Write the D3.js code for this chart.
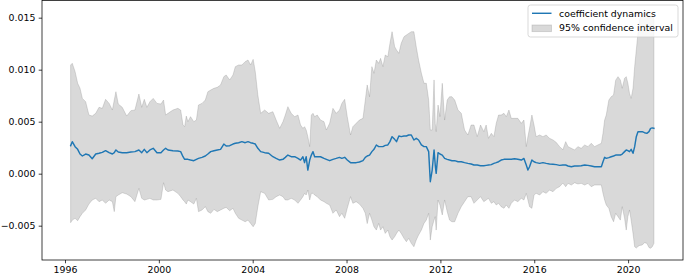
<!DOCTYPE html>
<html>
<head>
<meta charset="utf-8">
<script src="https://cdn.jsdelivr.net/npm/d3@7"></script>
<style>
  html, body { margin: 0; padding: 0; background: #ffffff; }
  svg { display: block; }
  text { font-family: "DejaVu Sans", sans-serif; }
</style>
</head>
<body>
<svg id="chart" width="685" height="276"></svg>
<script>
const years = [
1996.24,1996.31,1996.43,1996.54,1996.64,1996.74,1996.88,1997.02,1997.16,1997.31,
1997.45,1997.59,1997.73,1997.88,1998.02,1998.10,1998.17,1998.27,1998.44,1998.63,
1998.81,1998.98,1999.15,1999.27,1999.38,1999.49,1999.62,1999.76,1999.92,2000.09,
2000.20,2000.29,2000.39,2000.60,2000.81,2000.93,2001.03,2001.10,2001.17,2001.24,
2001.35,2001.49,2001.60,2001.69,2001.84,2001.98,2002.09,2002.21,2002.35,2002.49,
2002.63,2002.77,2002.87,2003.02,2003.16,2003.26,2003.40,2003.54,2003.68,2003.80,
2003.91,2004.02,2004.11,2004.22,2004.34,2004.51,2004.68,2004.86,2005.00,2005.15,
2005.29,2005.39,2005.50,2005.64,2005.79,2005.93,2006.04,2006.14,2006.21,2006.28,
2006.35,2006.43,2006.50,2006.57,2006.64,2006.75,2006.89,2007.04,2007.14,2007.28,
2007.42,2007.56,2007.70,2007.80,2007.92,2008.03,2008.17,2008.27,2008.41,2008.55,
2008.70,2008.80,2008.88,2008.98,2009.08,2009.17,2009.27,2009.37,2009.45,2009.55,
2009.65,2009.76,2009.85,2009.94,2010.05,2010.13,2010.23,2010.33,2010.45,2010.55,
2010.65,2010.76,2010.87,2010.97,2011.07,2011.19,2011.30,2011.40,2011.50,2011.57,
2011.65,2011.73,2011.78,2011.82,2011.90,2011.98,2012.08,2012.18,2012.29,2012.39,
2012.49,2012.61,2012.75,2012.89,2013.03,2013.17,2013.31,2013.43,2013.57,2013.71,
2013.85,2013.95,2014.05,2014.17,2014.28,2014.38,2014.48,2014.59,2014.71,2014.81,
2014.92,2015.02,2015.16,2015.30,2015.45,2015.56,2015.66,2015.73,2015.80,2015.90,
2015.99,2016.08,2016.23,2016.37,2016.51,2016.65,2016.80,2016.94,2017.08,2017.22,
2017.34,2017.44,2017.58,2017.72,2017.86,2018.00,2018.15,2018.29,2018.43,2018.57,
2018.71,2018.86,2018.93,2019.00,2019.07,2019.18,2019.28,2019.38,2019.47,2019.57,
2019.67,2019.75,2019.85,2019.92,2019.99,2020.06,2020.13,2020.21,2020.28,2020.35,
2020.42,2020.49,2020.60,2020.70,2020.80,2020.89,2020.96,2021.03,2021.10
];

const coef = [
0.00269,0.00308,0.00260,0.00234,0.00189,0.00170,0.00189,0.00179,0.00144,0.00189,
0.00196,0.00205,0.00221,0.00202,0.00189,0.00202,0.00228,0.00208,0.00202,0.00202,
0.00208,0.00212,0.00228,0.00202,0.00234,0.00202,0.00228,0.00244,0.00202,0.00202,
0.00228,0.00244,0.00228,0.00221,0.00218,0.00212,0.00163,0.00138,0.00138,0.00138,
0.00131,0.00125,0.00138,0.00147,0.00157,0.00170,0.00189,0.00212,0.00221,0.00228,
0.00234,0.00285,0.00266,0.00269,0.00285,0.00292,0.00298,0.00308,0.00298,0.00308,
0.00298,0.00292,0.00285,0.00244,0.00212,0.00202,0.00196,0.00163,0.00147,0.00131,
0.00138,0.00157,0.00179,0.00163,0.00163,0.00147,0.00131,0.00163,0.00106,0.00163,
0.00035,0.00131,0.00179,0.00212,0.00163,0.00163,0.00163,0.00147,0.00138,0.00125,
0.00138,0.00147,0.00157,0.00147,0.00157,0.00131,0.00106,0.00106,0.00106,0.00112,
0.00125,0.00157,0.00170,0.00179,0.00212,0.00234,0.00276,0.00260,0.00260,0.00260,
0.00272,0.00276,0.00308,0.00356,0.00330,0.00308,0.00362,0.00356,0.00362,0.00362,
0.00372,0.00372,0.00324,0.00340,0.00324,0.00276,0.00260,0.00260,0.00212,-0.00077,
0.00035,0.00228,0.00083,0.00003,0.00202,0.00189,0.00179,0.00147,0.00138,0.00131,
0.00125,0.00125,0.00115,0.00115,0.00106,0.00099,0.00093,0.00083,0.00083,0.00077,
0.00077,0.00080,0.00083,0.00087,0.00099,0.00106,0.00115,0.00131,0.00138,0.00138,
0.00138,0.00138,0.00144,0.00138,0.00131,0.00147,0.00083,0.00035,0.00067,0.00131,
0.00115,0.00106,0.00099,0.00106,0.00099,0.00093,0.00090,0.00087,0.00080,0.00083,
0.00083,0.00074,0.00067,0.00074,0.00074,0.00077,0.00083,0.00080,0.00074,0.00067,
0.00067,0.00067,0.00115,0.00157,0.00147,0.00154,0.00163,0.00170,0.00179,0.00179,
0.00179,0.00189,0.00212,0.00228,0.00221,0.00212,0.00234,0.00196,0.00260,0.00356,
0.00404,0.00404,0.00404,0.00394,0.00388,0.00404,0.00436,0.00440,0.00436
];

const upper = [
0.01045,0.01061,0.00981,0.00869,0.00821,0.00724,0.00692,0.00564,0.00554,0.00580,
0.00638,0.00628,0.00715,0.00676,0.00612,0.00708,0.00788,0.00670,0.00638,0.00554,
0.00606,0.00612,0.00766,0.00638,0.00715,0.00638,0.00692,0.00724,0.00676,0.00670,
0.00708,0.00564,0.00580,0.00612,0.00628,0.00612,0.00468,0.00452,0.00554,0.00500,
0.00548,0.00500,0.00516,0.00660,0.00676,0.00708,0.00788,0.00804,0.00821,0.00830,
0.00853,0.00933,0.00949,0.00901,0.00949,0.01029,0.01045,0.01045,0.01077,0.01093,
0.01045,0.01099,0.00981,0.00756,0.00580,0.00612,0.00580,0.00596,0.00516,0.00436,
0.00500,0.00564,0.00644,0.00580,0.00548,0.00564,0.00468,0.00436,0.00452,0.00420,
0.00356,0.00260,0.00564,0.00580,0.00548,0.00564,0.00516,0.00500,0.00420,0.00484,
0.00628,0.00580,0.00612,0.00676,0.00715,0.00548,0.00372,0.00452,0.00484,0.00516,
0.00532,0.00708,0.00853,0.00740,0.01029,0.00965,0.01093,0.01061,0.01109,0.01029,
0.01141,0.01125,0.01253,0.01365,0.01221,0.01189,0.01157,0.01253,0.01317,0.01333,
0.01349,0.01365,0.01365,0.01221,0.01093,0.00965,0.00869,0.00869,0.00708,0.00420,
0.00420,0.00901,0.00484,0.00404,0.00660,0.00548,0.00869,0.00516,0.00708,0.00740,
0.00740,0.00708,0.00612,0.00580,0.00420,0.00372,0.00468,0.00468,0.00356,0.00468,
0.00404,0.00468,0.00340,0.00388,0.00356,0.00484,0.00564,0.00564,0.00580,0.00548,
0.00612,0.00532,0.00532,0.00532,0.00484,0.00516,0.00260,0.00356,0.00436,0.00564,
0.00468,0.00356,0.00372,0.00356,0.00372,0.00340,0.00324,0.00300,0.00260,0.00230,
0.00308,0.00260,0.00244,0.00228,0.00260,0.00244,0.00276,0.00260,0.00292,0.00260,
0.00276,0.00292,0.00388,0.00516,0.00564,0.00708,0.00740,0.00756,0.00899,0.00933,
0.00901,0.00821,0.00917,0.00933,0.00869,0.00772,0.00724,0.00821,0.01029,0.01189,
0.01349,0.01478,0.01530,0.01550,0.01557,0.01540,0.01550,0.01530,0.01480
];

const lower = [
-0.00471,-0.00446,-0.00429,-0.00452,-0.00413,-0.00381,-0.00349,-0.00292,-0.00253,-0.00237,
-0.00269,-0.00253,-0.00285,-0.00253,-0.00269,-0.00365,-0.00221,-0.00205,-0.00183,-0.00196,
-0.00221,-0.00269,-0.00141,-0.00237,-0.00253,-0.00247,-0.00237,-0.00253,-0.00253,-0.00247,
-0.00087,-0.00157,-0.00173,-0.00157,-0.00189,-0.00221,-0.00253,-0.00269,-0.00292,-0.00253,
-0.00269,-0.00292,-0.00237,-0.00365,-0.00349,-0.00317,-0.00365,-0.00381,-0.00343,-0.00365,
-0.00349,-0.00333,-0.00324,-0.00356,-0.00333,-0.00381,-0.00429,-0.00446,-0.00462,-0.00446,
-0.00478,-0.00510,-0.00478,-0.00317,-0.00173,-0.00189,-0.00253,-0.00247,-0.00221,-0.00205,
-0.00221,-0.00253,-0.00253,-0.00237,-0.00253,-0.00285,-0.00253,-0.00221,-0.00189,-0.00205,
-0.00157,-0.00253,-0.00189,-0.00189,-0.00205,-0.00221,-0.00253,-0.00269,-0.00285,-0.00301,
-0.00381,-0.00349,-0.00413,-0.00381,-0.00429,-0.00333,-0.00221,-0.00285,-0.00269,-0.00292,
-0.00333,-0.00381,-0.00480,-0.00381,-0.00446,-0.00510,-0.00542,-0.00478,-0.00542,-0.00510,
-0.00574,-0.00542,-0.00606,-0.00638,-0.00606,-0.00574,-0.00542,-0.00574,-0.00622,-0.00654,
-0.00622,-0.00670,-0.00702,-0.00638,-0.00590,-0.00542,-0.00478,-0.00446,-0.00381,-0.00638,
-0.00510,-0.00446,-0.00413,-0.00542,-0.00253,-0.00301,-0.00397,-0.00253,-0.00365,-0.00446,
-0.00462,-0.00462,-0.00381,-0.00317,-0.00269,-0.00221,-0.00221,-0.00285,-0.00253,-0.00221,
-0.00269,-0.00253,-0.00237,-0.00285,-0.00269,-0.00301,-0.00285,-0.00317,-0.00333,-0.00301,
-0.00333,-0.00285,-0.00253,-0.00269,-0.00237,-0.00253,-0.00189,-0.00253,-0.00317,-0.00333,
-0.00205,-0.00189,-0.00205,-0.00173,-0.00189,-0.00157,-0.00173,-0.00141,-0.00125,-0.00090,
-0.00125,-0.00093,-0.00109,-0.00087,-0.00099,-0.00093,-0.00109,-0.00093,-0.00125,-0.00109,
-0.00109,-0.00109,-0.00189,-0.00253,-0.00301,-0.00333,-0.00413,-0.00462,-0.00381,-0.00413,
-0.00446,-0.00317,-0.00429,-0.00542,-0.00413,-0.00349,-0.00446,-0.00574,-0.00702,-0.00715,
-0.00700,-0.00690,-0.00686,-0.00663,-0.00670,-0.00710,-0.00717,-0.00702,-0.00670
];

const xTicks = [1996, 2000, 2004, 2008, 2012, 2016, 2020];
const yTicks = [-0.005, 0.000, 0.005, 0.010, 0.015];
const seriesNames = ["coefficient dynamics", "95% confidence interval"];

(function () {
  const data = years.map((t, i) => ({ t, c: coef[i], hi: upper[i], lo: lower[i] }));

  const svg = d3.select("#chart");
  const mLeft = 42, mRight = 683, mTop = 0, mBottom = 260;

  const x = d3.scaleLinear().domain([1995.02, 2022.34]).range([mLeft, mRight]);
  const y = d3.scaleLinear().domain([-0.0083, 0.0167]).range([mBottom, mTop]);

  svg.append("defs").append("clipPath").attr("id", "plotclip")
    .append("rect").attr("x", mLeft).attr("y", mTop).attr("width", mRight - mLeft).attr("height", mBottom - mTop);

  const plot = svg.append("g").attr("clip-path", "url(#plotclip)");

  const area = d3.area().x(d => x(d.t)).y0(d => y(d.lo)).y1(d => y(d.hi));
  plot.append("path")
    .attr("d", area(data))
    .attr("fill", "#808080").attr("fill-opacity", 0.3)
    .attr("stroke", "#808080").attr("stroke-opacity", 0.3).attr("stroke-width", 0.9)
    .attr("stroke-linejoin", "round");

  const line = d3.line().x(d => x(d.t)).y(d => y(d.c));
  plot.append("path")
    .attr("d", line(data))
    .attr("fill", "none").attr("stroke", "#1f77b4").attr("stroke-width", 1.45)
    .attr("stroke-linejoin", "round").attr("stroke-linecap", "square");

  const fontSize = "9.4px";
  const xAxis = d3.axisBottom(x).tickValues(xTicks).tickFormat(d3.format("d"))
    .tickSizeInner(3.3).tickSizeOuter(0).tickPadding(3.3);
  const yAxis = d3.axisLeft(y).tickValues(yTicks).tickFormat(d3.format(".3f"))
    .tickSizeInner(3.3).tickSizeOuter(0).tickPadding(3.3);

  const gx = svg.append("g").attr("transform", `translate(0,${mBottom})`).call(xAxis);
  const gy = svg.append("g").attr("transform", `translate(${mLeft},0)`).call(yAxis);
  [gx, gy].forEach(g => {
    g.select(".domain").remove();
    g.selectAll(".tick line").attr("stroke", "#000").attr("stroke-width", 0.75);
    g.selectAll(".tick text").attr("fill", "#000").style("font-size", fontSize)
      .style("font-family", "'DejaVu Sans', sans-serif");
  });

  svg.append("rect").attr("x", mLeft).attr("y", 0.5).attr("width", mRight - mLeft).attr("height", mBottom - 0.5)
    .attr("fill", "none").attr("stroke", "#000").attr("stroke-width", 0.75);

  // Legend
  const lg = svg.append("g");
  lg.append("rect").attr("x", 528).attr("y", 5).attr("width", 150).attr("height", 32).attr("rx", 2.5)
    .attr("fill", "#fff").attr("fill-opacity", 0.8).attr("stroke", "#cccccc").attr("stroke-width", 0.75);
  lg.append("line").attr("x1", 532).attr("x2", 551.5).attr("y1", 13.3).attr("y2", 13.3)
    .attr("stroke", "#1f77b4").attr("stroke-width", 1.45);
  lg.append("rect").attr("x", 532).attr("y", 25).attr("width", 19.5).attr("height", 6.6)
    .attr("fill", "#808080").attr("fill-opacity", 0.3)
    .attr("stroke", "#808080").attr("stroke-opacity", 0.3).attr("stroke-width", 0.9);
  lg.append("text").attr("x", 559).attr("y", 16.7).text(seriesNames[0])
    .style("font-size", fontSize).attr("fill", "#000");
  lg.append("text").attr("x", 559).attr("y", 31.2).text(seriesNames[1])
    .style("font-size", fontSize).attr("fill", "#000");
})();
</script>
</body>
</html>
